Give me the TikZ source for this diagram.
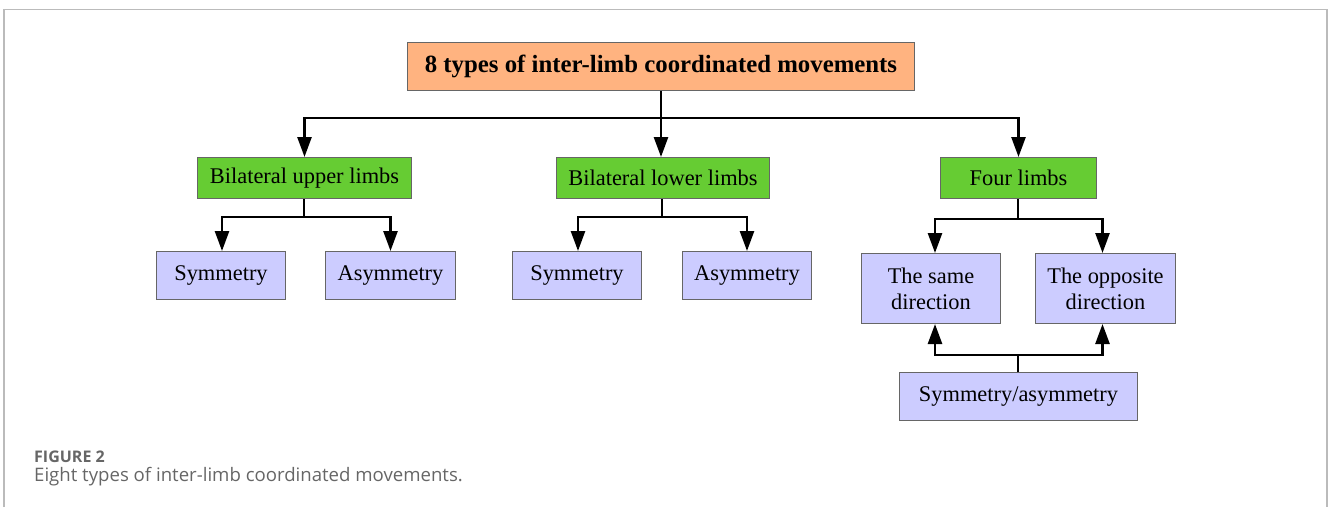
\documentclass[tikz,border=0pt]{standalone}
\usepackage{fontspec}
\setmainfont{Liberation Serif}
\newfontfamily\capfont{Open Sans}
\usetikzlibrary{arrows.meta}
\definecolor{orangebox}{HTML}{FFB380}
\definecolor{greenbox}{HTML}{66CC33}
\definecolor{lavbox}{HTML}{CCCCFF}
\definecolor{boxline}{HTML}{666666}
\definecolor{framegray}{HTML}{BBBBBB}
\definecolor{capgray}{HTML}{666666}
\begin{document}
\begin{tikzpicture}[x=1pt,y=-1pt,
  box/.style={draw=boxline,line width=1pt,anchor=north west,inner sep=0pt,align=center},
  topbox/.style={box,fill=orangebox,font=\fontsize{24.8}{28}\selectfont\bfseries},
  grnbox/.style={box,fill=greenbox,font=\fontsize{22.4}{26}\selectfont},
  lavnode/.style={box,fill=lavbox,font=\fontsize{22.4}{26}\selectfont},
  conn/.style={line width=2.6pt,-{Triangle[length=20pt,width=14pt]}},
  plain/.style={line width=2.6pt}]
\useasboundingbox (0,0) rectangle (1328,507);
% frame
\draw[framegray,line width=1.3pt] (4,507) -- (4,9.5) -- (1327,9.5) -- (1327,507);
% boxes
\node[topbox,minimum width=507pt,minimum height=48pt] (top) at (407,42) {8 types of inter-limb coordinated movements};
\node[grnbox,minimum width=214pt,minimum height=41pt] (up) at (197,157) {Bilateral upper limbs};
\node[grnbox,minimum width=213pt,minimum height=41pt] (low) at (556,157) {Bilateral lower limbs};
\node[grnbox,minimum width=156pt,minimum height=41pt] (four) at (940,157) {Four limbs};
\node[lavnode,minimum width=129pt,minimum height=48pt] (s1) at (156,251) {Symmetry};
\node[lavnode,minimum width=130pt,minimum height=48pt] (a1) at (325,251) {Asymmetry};
\node[lavnode,minimum width=129pt,minimum height=48pt] (s2) at (512,251) {Symmetry};
\node[lavnode,minimum width=129pt,minimum height=48pt] (a2) at (682,251) {Asymmetry};
\node[lavnode,minimum width=139pt,minimum height=70pt] (same) at (861,253) {The same\\direction};
\node[lavnode,minimum width=140pt,minimum height=70pt] (opp) at (1035,253) {The opposite\\direction};
\node[lavnode,minimum width=238pt,minimum height=48pt] (sa) at (899,372) {Symmetry/asymmetry};
% junction coordinates
\coordinate (j0) at (661,118);
\coordinate (j1) at (304,217);
\coordinate (j2) at (662,217);
\coordinate (j3) at (1018,219);
\coordinate (j4) at (1018,355);
% connectors level 1
\draw[plain] (top.south -| j0) -- (j0);
\draw[conn] (j0) -| (up.north);
\draw[conn] (j0) -- (low.north -| j0);
\draw[conn] (j0) -| (four.north);
% level 2
\draw[plain] (up.south -| j1) -- (j1);
\draw[conn] (j1) -| ([xshift=1pt]s1.north);
\draw[conn] (j1) -| ([xshift=0pt]a1.north);
\draw[plain] (low.south -| j2) -- (j2);
\draw[conn] (j2) -| ([xshift=1pt]s2.north);
\draw[conn] (j2) -| ([xshift=0pt]a2.north);
\draw[plain] (four.south -| j3) -- (j3);
\draw[conn] (j3) -| ([xshift=4pt]same.north);
\draw[conn] (j3) -| ([xshift=-3pt]opp.north);
% bottom
\draw[plain] (sa.north -| j4) -- (j4);
\draw[conn] (j4) -| ([xshift=4pt]same.south);
\draw[conn] (j4) -| ([xshift=-3pt]opp.south);
% caption
\node[anchor=base west,inner sep=0pt,text=capgray,font=\capfont\fontsize{16}{18}\selectfont\bfseries] (fig) at (34,462) {FIGURE 2};
\node[anchor=base west,inner sep=0pt,text=capgray,font=\capfont\fontsize{18.6}{22}\selectfont] (cap) at (34,481) {Eight types of inter-limb coordinated movements.};
\end{tikzpicture}
\end{document}
